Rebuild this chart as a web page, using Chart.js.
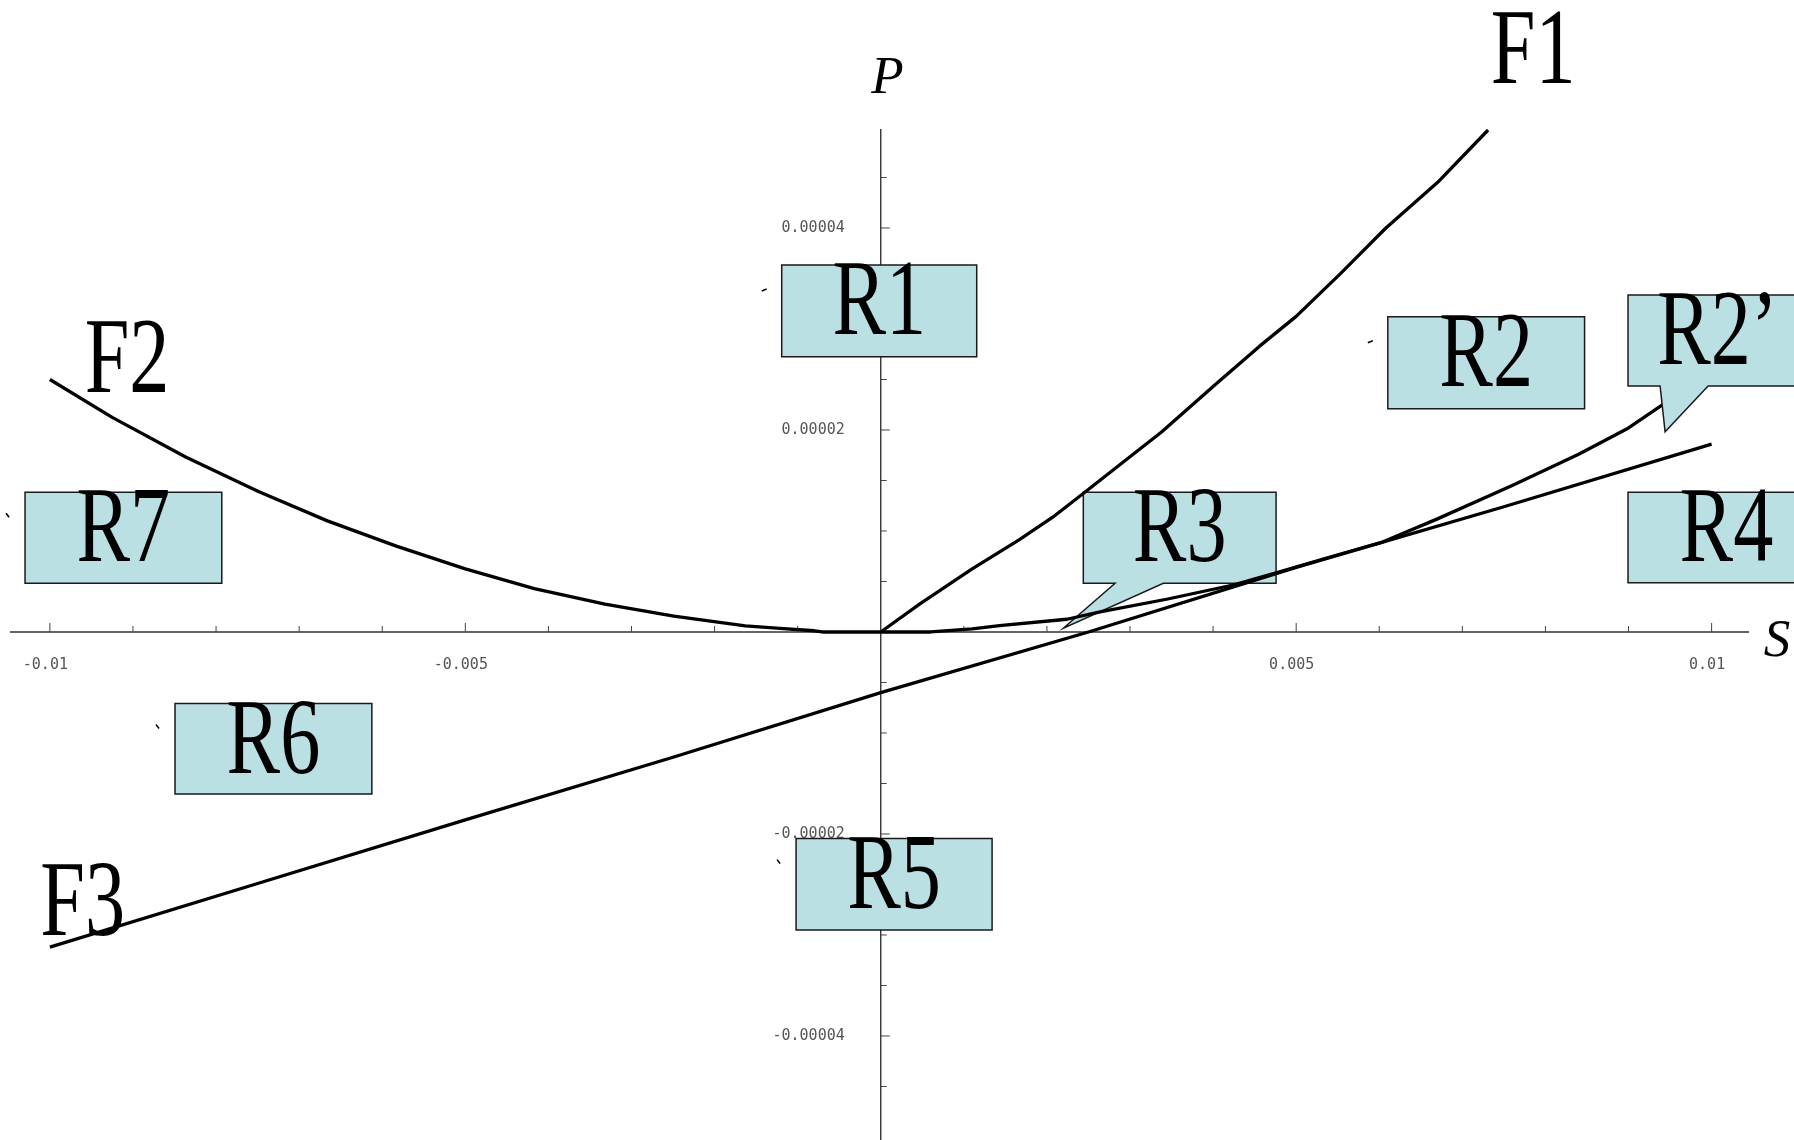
<!DOCTYPE html>
<html>
<head>
<meta charset="utf-8">
<script src="https://cdn.jsdelivr.net/npm/chart.js@4.4.1/dist/chart.umd.min.js"></script>
<style>html,body{margin:0;padding:0;background:#fff;overflow:hidden}</style>
</head>
<body>
<canvas id="chart" width="1794" height="1140"></canvas>
<script>
// ---------- data ----------
const seriesNames = ['F1', 'F2', 'F3', 'F4'];

const f1X = [0, 0.00048, 0.0011, 0.00166, 0.00207, 0.00246, 0.0029, 0.00338, 0.004, 0.00456, 0.005, 0.00553, 0.00608, 0.0067, 0.00731];
const f1Y = [0, 2.84e-6, 6.25e-6, 9.1e-6, 1.136e-5, 1.386e-5, 1.67e-5, 1.98e-5, 2.43e-5, 2.83e-5, 3.125e-5, 3.545e-5, 4.0e-5, 4.45e-5, 4.97e-5];

const f2X = [-0.01, -0.00925, -0.00836, -0.00749, -0.00666, -0.00583, -0.005, -0.00417, -0.00332, -0.00249, -0.00163, -0.00117, -0.0008, -0.0007, 0];
const f2Y = [2.5e-5, 2.125e-5, 1.73e-5, 1.39e-5, 1.1e-5, 8.5e-6, 6.25e-6, 4.3e-6, 2.75e-6, 1.58e-6, 6e-7, 3.4e-7, 1.2e-7, 0, 0];

const f3X = [-0.01, -0.0075, -0.005, -0.0025, 0, 0.0025, 0.005, 0.0075, 0.01];
const f3Y = [-3.12e-5, -2.49e-5, -1.86e-5, -1.24e-5, -6.0e-6, 0, 6.4e-6, 1.24e-5, 1.86e-5];

const f4X = [0, 0.0006, 0.0011, 0.00143, 0.00224, 0.00264, 0.00344, 0.00424, 0.0048, 0.0054, 0.00604, 0.0067, 0.0076, 0.0084, 0.009, 0.0095];
const f4Y = [0, 0, 3e-7, 6.2e-7, 1.26e-6, 2.0e-6, 3.24e-6, 4.65e-6, 5.95e-6, 7.4e-6, 8.9e-6, 1.12e-5, 1.45e-5, 1.76e-5, 2.02e-5, 2.3e-5];

const xTickValues = [-0.01, -0.005, 0.005, 0.01];
const xTickLabels = ['-0.01', '-0.005', '0.005', '0.01'];
const yTickValues = [0.00004, 0.00002, -0.00002, -0.00004];
const yTickLabels = ['0.00004', '0.00002', '-0.00002', '-0.00004'];

const regionLabels = ['R1', 'R2', 'R2\u2019', 'R3', 'R4', 'R5', 'R6', 'R7'];
const axisTitles = ['P', 'S'];

// ---------- layout of annotations (data coordinates) ----------
const regionLayout = [
  {x0: -0.001192, x1: 0.001155, y0: 3.634e-5, y1: 2.726e-5, mark: 'rise', layer: 'over'},
  {x0: 0.006103, x1: 0.008471, y0: 3.12e-5, y1: 2.211e-5, mark: 'rise', layer: 'over'},
  {x0: 0.008994, x1: 0.011363, y0: 3.337e-5, y1: 2.436e-5, layer: 'over', dx: -9,
   tail: {b0: 0.00938, b1: 0.009958, tx: 0.00944, ty: 1.983e-5}},
  {x0: 0.002438, x1: 0.004758, y0: 1.383e-5, y1: 4.82e-6, layer: 'under',
   tail: {b0: 0.00282, b1: 0.003401, tx: 0.002198, ty: 3.7e-7}},
  {x0: 0.008994, x1: 0.011363, y0: 1.383e-5, y1: 4.88e-6, layer: 'over'},
  {x0: -0.001019, x1: 0.00134, y0: -2.046e-5, y1: -2.95e-5, mark: 'fall', layer: 'over'},
  {x0: -0.008494, x1: -0.006125, y0: -7.09e-6, y1: -1.604e-5, mark: 'fall', layer: 'over'},
  {x0: -0.010299, x1: -0.007931, y0: 1.383e-5, y1: 4.82e-6, mark: 'fall', layer: 'over'}
];
const seriesLabelPos = [
  {x: 0.007852, y: 5.436e-5},
  {x: -0.009071, y: 2.376e-5},
  {x: -0.009605, y: -3.0e-5}
];
const axisTitlePos = [
  {x: 0.0000818, y: 5.34e-5},
  {x: 0.010788, y: -2.38e-6}
];

const BOX_FILL = 'rgb(187,224,227)';
const BIG_FONT = '107px "Liberation Serif", "Times New Roman", serif';
const TICK_FONT = '15px "DejaVu Sans Mono", monospace';

function pts(xs, ys) { return xs.map((x, i) => ({x: x, y: ys[i]})); }

function drawAxes(chart) {
  const ctx = chart.ctx, ca = chart.chartArea;
  const xs = chart.scales.x, ys = chart.scales.y;
  const ax = xs.getPixelForValue(0), ay = ys.getPixelForValue(0);
  ctx.save();
  ctx.strokeStyle = '#333';
  ctx.lineWidth = 1.4;
  ctx.beginPath();
  ctx.moveTo(ca.left, ay); ctx.lineTo(ca.right, ay);
  ctx.moveTo(ax, ca.top); ctx.lineTo(ax, ca.bottom);
  ctx.stroke();
  ctx.lineWidth = 1;
  ctx.strokeStyle = '#444';
  ctx.beginPath();
  for (let k = -10; k <= 10; k++) {
    if (k === 0) continue;
    const px = xs.getPixelForValue(k * 0.001);
    const len = (k % 5 === 0) ? 9 : 6;
    ctx.moveTo(px, ay); ctx.lineTo(px, ay - len);
  }
  for (let k = -9; k <= 9; k++) {
    if (k === 0) continue;
    const py = ys.getPixelForValue(k * 0.000005);
    const len = (k % 4 === 0) ? 9 : 6;
    ctx.moveTo(ax, py); ctx.lineTo(ax + len, py);
  }
  ctx.stroke();
  ctx.fillStyle = '#555';
  ctx.font = TICK_FONT;
  ctx.textAlign = 'center';
  ctx.textBaseline = 'middle';
  xTickValues.forEach((v, i) => {
    ctx.fillText(xTickLabels[i], xs.getPixelForValue(v) - 4.5, ay + 33);
  });
  ctx.textAlign = 'right';
  yTickValues.forEach((v, i) => {
    ctx.fillText(yTickLabels[i], ax - 36, ys.getPixelForValue(v));
  });
  ctx.restore();
}

function bigText(ctx, text, cx, baseline) {
  ctx.save();
  ctx.translate(cx, baseline);
  ctx.scale(0.75, 1);
  ctx.font = BIG_FONT;
  ctx.fillStyle = '#000';
  ctx.textAlign = 'center';
  ctx.textBaseline = 'alphabetic';
  ctx.fillText(text, 0, 0);
  ctx.restore();
}

function drawCallouts(chart, layer) {
  const ctx = chart.ctx;
  const xs = chart.scales.x, ys = chart.scales.y;
  regionLayout.forEach((b, i) => {
    if (b.layer !== layer) return;
    const L = xs.getPixelForValue(b.x0), R = xs.getPixelForValue(b.x1);
    const T = ys.getPixelForValue(b.y0), B = ys.getPixelForValue(b.y1);
    ctx.save();
    ctx.beginPath();
    ctx.moveTo(L, T); ctx.lineTo(R, T); ctx.lineTo(R, B);
    if (b.tail) {
      ctx.lineTo(xs.getPixelForValue(b.tail.b1), B);
      ctx.lineTo(xs.getPixelForValue(b.tail.tx), ys.getPixelForValue(b.tail.ty));
      ctx.lineTo(xs.getPixelForValue(b.tail.b0), B);
    }
    ctx.lineTo(L, B);
    ctx.closePath();
    ctx.fillStyle = BOX_FILL;
    ctx.fill();
    ctx.strokeStyle = '#1a1a1a';
    ctx.lineWidth = 1.5;
    ctx.lineJoin = 'miter';
    ctx.stroke();
    if (b.mark) {
      ctx.beginPath();
      ctx.lineWidth = 1.6;
      ctx.strokeStyle = '#000';
      if (b.mark === 'rise') { ctx.moveTo(L - 20, T + 26); ctx.lineTo(L - 15, T + 24); }
      else { ctx.moveTo(L - 19, T + 21); ctx.lineTo(L - 16, T + 25); }
      ctx.stroke();
    }
    ctx.restore();
    bigText(ctx, regionLabels[i], (L + R) / 2 + (b.dx || 0), T + 69);
  });
}

function drawTexts(chart) {
  const ctx = chart.ctx;
  const xs = chart.scales.x, ys = chart.scales.y;
  seriesLabelPos.forEach((p, i) => {
    bigText(ctx, seriesNames[i], xs.getPixelForValue(p.x), ys.getPixelForValue(p.y));
  });
  ctx.save();
  ctx.fillStyle = '#000';
  ctx.font = 'italic 53px "Liberation Serif", "Times New Roman", serif';
  ctx.textAlign = 'center';
  ctx.textBaseline = 'alphabetic';
  axisTitlePos.forEach((p, i) => {
    ctx.fillText(axisTitles[i], xs.getPixelForValue(p.x), ys.getPixelForValue(p.y));
  });
  ctx.restore();
}

const overlay = {
  id: 'overlay',
  beforeDatasetsDraw(chart) { drawAxes(chart); drawCallouts(chart, 'under'); },
  afterDatasetsDraw(chart) { drawCallouts(chart, 'over'); drawTexts(chart); }
};

const lineStyle = {borderColor: '#000', borderWidth: 3.3, pointRadius: 0, showLine: true,
  fill: false, tension: 0, borderJoinStyle: 'round', clip: false};

new Chart(document.getElementById('chart'), {
  type: 'scatter',
  data: {
    datasets: [
      Object.assign({label: seriesNames[0], data: pts(f1X, f1Y)}, lineStyle),
      Object.assign({label: seriesNames[1], data: pts(f2X, f2Y)}, lineStyle),
      Object.assign({label: seriesNames[2], data: pts(f3X, f3Y)}, lineStyle),
      Object.assign({label: seriesNames[3], data: pts(f4X, f4Y)}, lineStyle)
    ]
  },
  options: {
    responsive: false,
    animation: false,
    devicePixelRatio: 1,
    layout: {padding: {left: 10, right: 45, top: 129, bottom: 0}},
    plugins: {legend: {display: false}, tooltip: {enabled: false}},
    scales: {
      x: {type: 'linear', display: false, min: -0.01048, max: 0.01045},
      y: {type: 'linear', display: false, min: -0.0000503, max: 0.0000498}
    }
  },
  plugins: [overlay]
});
</script>
</body>
</html>
